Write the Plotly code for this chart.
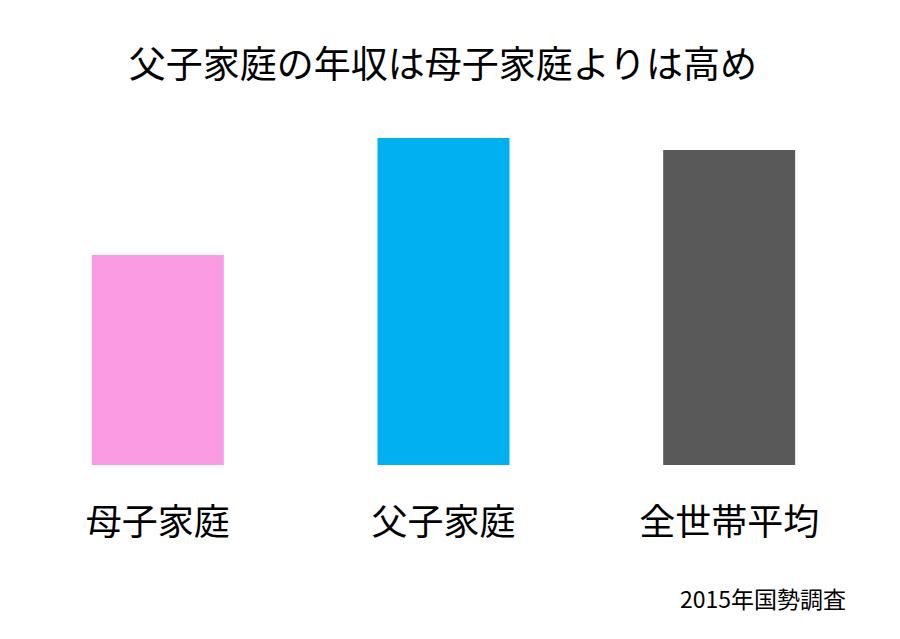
import plotly.graph_objects as go

categories = ["母子家庭", "父子家庭", "全世帯平均"]
values = [210, 327, 315]
colors = ["#fb9be4", "#00b0f0", "#595959"]

FONT = "Noto Sans CJK JP"

fig = go.Figure(go.Bar(
    x=categories, y=values, marker=dict(color=colors, line=dict(width=0)),
    width=0.462, hoverinfo="skip"))

L, R, T, B = 7, 36, 107, 182
PW = 900 - L - R
PH = 639 - T - B

fig.update_layout(
    width=900, height=639,
    margin=dict(l=L, r=R, t=T, b=B),
    paper_bgcolor="white", plot_bgcolor="white",
    showlegend=False,
    font=dict(family=FONT, color="#000000"),
    title=dict(text="父子家庭の年収は母子家庭よりは高め", x=435 / 900, xanchor="center",
               y=1 - 57 / 639, yanchor="middle", font=dict(size=37, family=FONT)),
    xaxis=dict(range=[-0.5, 2.5], showgrid=False, zeroline=False, showline=False,
               ticks="", tickfont=dict(size=36, family=FONT), ticklabelstandoff=33),
    yaxis=dict(range=[0, 350], visible=False),
    annotations=[dict(text="2015年国勢調査", xref="paper", yref="paper",
                      x=(840 - L) / PW, y=-(590 - (T + PH)) / PH,
                      xanchor="right", yanchor="middle", showarrow=False,
                      font=dict(size=23, family=FONT))],
)

fig.write_html("out.html")
